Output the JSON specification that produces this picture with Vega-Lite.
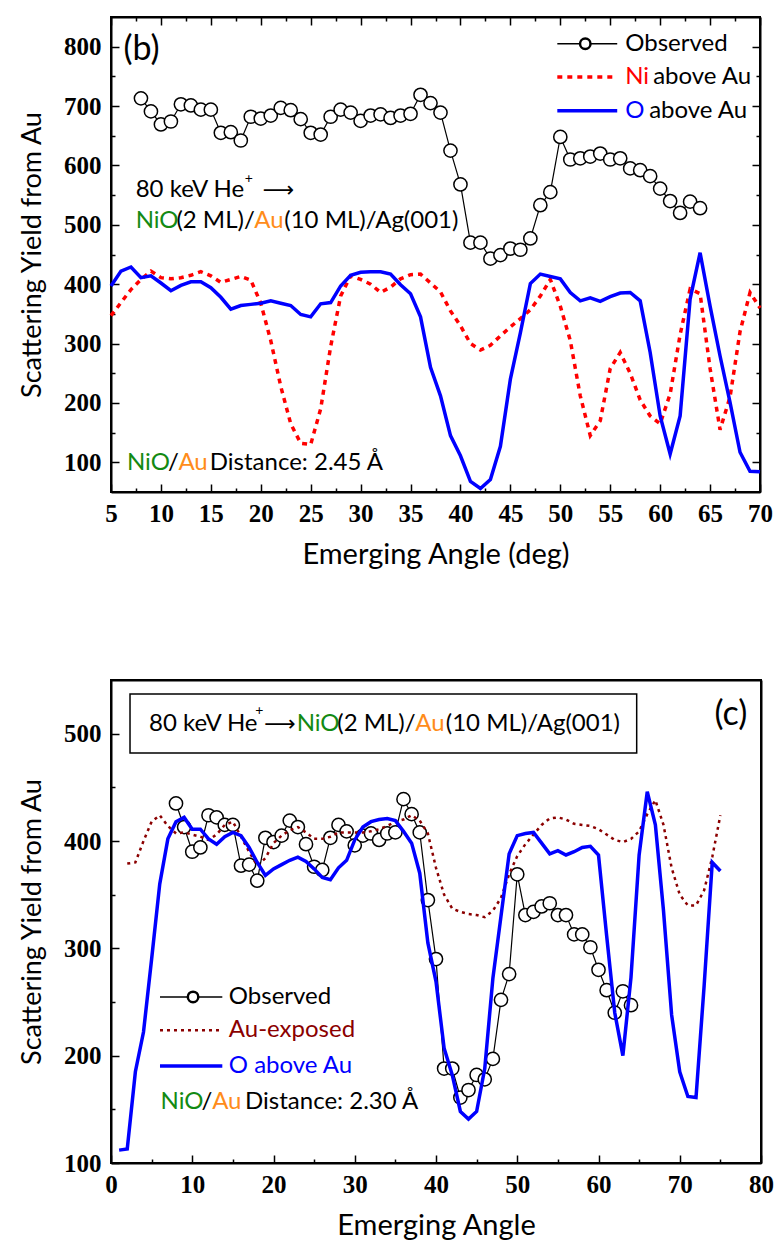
{
  "$schema": "https://vega.github.io/schema/vega-lite/v6.json",
  "padding": {"left": 17, "top": 15, "right": 14, "bottom": 5},
  "spacing": 188,
  "bounds": "flush",
  "background": "white",
  "config": {
    "font": "Lato",
    "view": {"stroke": "black", "strokeWidth": 2},
    "axis": {
      "grid": false,
      "domainColor": "black",
      "domainWidth": 2,
      "tickColor": "black",
      "tickWidth": 1.5,
      "labelFont": "Liberation Serif",
      "labelFontWeight": "bold",
      "labelFontSize": 25,
      "labelColor": "black",
      "labelFlush": false,
      "labelOverlap": false,
      "labelBound": false,
      "titleFont": "Lato",
      "titleFontWeight": "normal",
      "titleFontSize": 29,
      "titleColor": "black"
    },
    "axisLeft": {"titleFontSize": 27}
  },
  "datasets": {
    "b_obs": [
      {"angle": 8, "yield": 713}, {"angle": 9, "yield": 691}, {"angle": 10, "yield": 669}, {"angle": 11, "yield": 674},
      {"angle": 12, "yield": 703}, {"angle": 13, "yield": 701}, {"angle": 14, "yield": 694}, {"angle": 15, "yield": 694},
      {"angle": 16, "yield": 655}, {"angle": 17, "yield": 656}, {"angle": 18, "yield": 642}, {"angle": 19, "yield": 682},
      {"angle": 20, "yield": 679}, {"angle": 21, "yield": 684}, {"angle": 22, "yield": 697}, {"angle": 23, "yield": 693},
      {"angle": 24, "yield": 678}, {"angle": 25, "yield": 655}, {"angle": 26, "yield": 652}, {"angle": 27, "yield": 682},
      {"angle": 28, "yield": 694}, {"angle": 29, "yield": 689}, {"angle": 30, "yield": 675}, {"angle": 31, "yield": 684},
      {"angle": 32, "yield": 686}, {"angle": 33, "yield": 680}, {"angle": 34, "yield": 684}, {"angle": 35, "yield": 687},
      {"angle": 36, "yield": 719}, {"angle": 37, "yield": 705}, {"angle": 38, "yield": 689}, {"angle": 39, "yield": 625},
      {"angle": 40, "yield": 568}, {"angle": 41, "yield": 470}, {"angle": 42, "yield": 470}, {"angle": 43, "yield": 443},
      {"angle": 44, "yield": 449}, {"angle": 45, "yield": 460}, {"angle": 46, "yield": 458}, {"angle": 47, "yield": 477},
      {"angle": 48, "yield": 533}, {"angle": 49, "yield": 555}, {"angle": 50, "yield": 648}, {"angle": 51, "yield": 610},
      {"angle": 52, "yield": 612}, {"angle": 53, "yield": 615}, {"angle": 54, "yield": 620}, {"angle": 55, "yield": 610},
      {"angle": 56, "yield": 612}, {"angle": 57, "yield": 595}, {"angle": 58, "yield": 592}, {"angle": 59, "yield": 582},
      {"angle": 60, "yield": 561}, {"angle": 61, "yield": 540}, {"angle": 62, "yield": 520}, {"angle": 63, "yield": 539},
      {"angle": 64, "yield": 528}
    ],
    "b_ni": [
      {"angle": 5, "yield": 347}, {"angle": 6, "yield": 369}, {"angle": 7, "yield": 391}, {"angle": 8, "yield": 408},
      {"angle": 9, "yield": 422}, {"angle": 10, "yield": 411}, {"angle": 11, "yield": 409}, {"angle": 12, "yield": 411},
      {"angle": 13, "yield": 415}, {"angle": 14, "yield": 421}, {"angle": 15, "yield": 414}, {"angle": 16, "yield": 403},
      {"angle": 17, "yield": 408}, {"angle": 18, "yield": 413}, {"angle": 19, "yield": 407}, {"angle": 20, "yield": 368},
      {"angle": 21, "yield": 305}, {"angle": 22, "yield": 228}, {"angle": 23, "yield": 165}, {"angle": 24, "yield": 132},
      {"angle": 25, "yield": 130}, {"angle": 26, "yield": 190}, {"angle": 27, "yield": 295}, {"angle": 28, "yield": 380},
      {"angle": 29, "yield": 414}, {"angle": 30, "yield": 408}, {"angle": 31, "yield": 400}, {"angle": 32, "yield": 386},
      {"angle": 33, "yield": 395}, {"angle": 34, "yield": 409}, {"angle": 35, "yield": 416}, {"angle": 36, "yield": 417},
      {"angle": 37, "yield": 402}, {"angle": 38, "yield": 387}, {"angle": 39, "yield": 355}, {"angle": 40, "yield": 330},
      {"angle": 41, "yield": 300}, {"angle": 42, "yield": 289}, {"angle": 43, "yield": 297}, {"angle": 44, "yield": 313},
      {"angle": 45, "yield": 328}, {"angle": 46, "yield": 342}, {"angle": 47, "yield": 357}, {"angle": 48, "yield": 380},
      {"angle": 49, "yield": 408}, {"angle": 50, "yield": 363}, {"angle": 51, "yield": 305}, {"angle": 52, "yield": 212},
      {"angle": 53, "yield": 145}, {"angle": 54, "yield": 170}, {"angle": 55, "yield": 258}, {"angle": 56, "yield": 285},
      {"angle": 57, "yield": 250}, {"angle": 58, "yield": 205}, {"angle": 59, "yield": 178}, {"angle": 60, "yield": 165},
      {"angle": 61, "yield": 215}, {"angle": 62, "yield": 315}, {"angle": 63, "yield": 392}, {"angle": 64, "yield": 384},
      {"angle": 65, "yield": 258}, {"angle": 66, "yield": 155}, {"angle": 67, "yield": 210}, {"angle": 68, "yield": 320},
      {"angle": 69, "yield": 386}, {"angle": 70, "yield": 360}
    ],
    "b_o": [
      {"angle": 5, "yield": 397}, {"angle": 6, "yield": 422}, {"angle": 7, "yield": 429}, {"angle": 8, "yield": 411},
      {"angle": 9, "yield": 414}, {"angle": 10, "yield": 402}, {"angle": 11, "yield": 389}, {"angle": 12, "yield": 398},
      {"angle": 13, "yield": 404}, {"angle": 14, "yield": 404}, {"angle": 15, "yield": 394}, {"angle": 16, "yield": 378},
      {"angle": 17, "yield": 358}, {"angle": 18, "yield": 364}, {"angle": 19, "yield": 366}, {"angle": 20, "yield": 368},
      {"angle": 21, "yield": 372}, {"angle": 22, "yield": 368}, {"angle": 23, "yield": 364}, {"angle": 24, "yield": 349},
      {"angle": 25, "yield": 345}, {"angle": 26, "yield": 367}, {"angle": 27, "yield": 369}, {"angle": 28, "yield": 397},
      {"angle": 29, "yield": 415}, {"angle": 30, "yield": 420}, {"angle": 31, "yield": 421}, {"angle": 32, "yield": 421},
      {"angle": 33, "yield": 417}, {"angle": 34, "yield": 399}, {"angle": 35, "yield": 384}, {"angle": 36, "yield": 345},
      {"angle": 37, "yield": 260}, {"angle": 38, "yield": 212}, {"angle": 39, "yield": 145}, {"angle": 40, "yield": 111},
      {"angle": 41, "yield": 68}, {"angle": 42, "yield": 56}, {"angle": 43, "yield": 71}, {"angle": 44, "yield": 127},
      {"angle": 45, "yield": 240}, {"angle": 46, "yield": 318}, {"angle": 47, "yield": 401}, {"angle": 48, "yield": 417},
      {"angle": 49, "yield": 413}, {"angle": 50, "yield": 409}, {"angle": 51, "yield": 386}, {"angle": 52, "yield": 372},
      {"angle": 53, "yield": 377}, {"angle": 54, "yield": 371}, {"angle": 55, "yield": 379}, {"angle": 56, "yield": 385},
      {"angle": 57, "yield": 386}, {"angle": 58, "yield": 372}, {"angle": 59, "yield": 285}, {"angle": 60, "yield": 178},
      {"angle": 61, "yield": 114}, {"angle": 62, "yield": 178}, {"angle": 63, "yield": 375}, {"angle": 64, "yield": 453},
      {"angle": 65, "yield": 363}, {"angle": 66, "yield": 279}, {"angle": 67, "yield": 201}, {"angle": 68, "yield": 117},
      {"angle": 69, "yield": 85}, {"angle": 70, "yield": 84}
    ],
    "c_obs": [
      {"angle": 8, "yield": 435}, {"angle": 9, "yield": 413}, {"angle": 10, "yield": 390}, {"angle": 11, "yield": 394},
      {"angle": 12, "yield": 424}, {"angle": 13, "yield": 422}, {"angle": 14, "yield": 415}, {"angle": 15, "yield": 415},
      {"angle": 16, "yield": 377}, {"angle": 17, "yield": 378}, {"angle": 18, "yield": 363}, {"angle": 19, "yield": 403},
      {"angle": 20, "yield": 399}, {"angle": 21, "yield": 405}, {"angle": 22, "yield": 419}, {"angle": 23, "yield": 413},
      {"angle": 24, "yield": 397}, {"angle": 25, "yield": 376}, {"angle": 26, "yield": 373}, {"angle": 27, "yield": 403},
      {"angle": 28, "yield": 415}, {"angle": 29, "yield": 409}, {"angle": 30, "yield": 396}, {"angle": 31, "yield": 405},
      {"angle": 32, "yield": 407}, {"angle": 33, "yield": 401}, {"angle": 34, "yield": 407}, {"angle": 35, "yield": 408},
      {"angle": 36, "yield": 439}, {"angle": 37, "yield": 425}, {"angle": 38, "yield": 408}, {"angle": 39, "yield": 345},
      {"angle": 40, "yield": 290}, {"angle": 41, "yield": 188}, {"angle": 42, "yield": 188}, {"angle": 43, "yield": 161},
      {"angle": 44, "yield": 168}, {"angle": 45, "yield": 182}, {"angle": 46, "yield": 178}, {"angle": 47, "yield": 197},
      {"angle": 48, "yield": 252}, {"angle": 49, "yield": 276}, {"angle": 50, "yield": 369}, {"angle": 51, "yield": 331},
      {"angle": 52, "yield": 334}, {"angle": 53, "yield": 339}, {"angle": 54, "yield": 342}, {"angle": 55, "yield": 331},
      {"angle": 56, "yield": 331}, {"angle": 57, "yield": 313}, {"angle": 58, "yield": 313}, {"angle": 59, "yield": 301},
      {"angle": 60, "yield": 280}, {"angle": 61, "yield": 261}, {"angle": 62, "yield": 240}, {"angle": 63, "yield": 260},
      {"angle": 64, "yield": 247}
    ],
    "c_au": [
      {"angle": 2, "yield": 379}, {"angle": 3, "yield": 380}, {"angle": 4, "yield": 400}, {"angle": 5, "yield": 418},
      {"angle": 6, "yield": 424}, {"angle": 7, "yield": 414}, {"angle": 8, "yield": 407}, {"angle": 9, "yield": 408},
      {"angle": 10, "yield": 406}, {"angle": 11, "yield": 404}, {"angle": 12, "yield": 401}, {"angle": 13, "yield": 406},
      {"angle": 14, "yield": 415}, {"angle": 15, "yield": 418}, {"angle": 16, "yield": 404}, {"angle": 17, "yield": 390},
      {"angle": 18, "yield": 377}, {"angle": 19, "yield": 384}, {"angle": 20, "yield": 398}, {"angle": 21, "yield": 405},
      {"angle": 22, "yield": 410}, {"angle": 23, "yield": 413}, {"angle": 24, "yield": 408}, {"angle": 25, "yield": 402},
      {"angle": 26, "yield": 402}, {"angle": 27, "yield": 404}, {"angle": 28, "yield": 408}, {"angle": 29, "yield": 408},
      {"angle": 30, "yield": 408}, {"angle": 31, "yield": 408}, {"angle": 32, "yield": 409}, {"angle": 33, "yield": 411},
      {"angle": 34, "yield": 414}, {"angle": 35, "yield": 418}, {"angle": 36, "yield": 420}, {"angle": 37, "yield": 424},
      {"angle": 38, "yield": 419}, {"angle": 39, "yield": 407}, {"angle": 40, "yield": 375}, {"angle": 41, "yield": 350},
      {"angle": 42, "yield": 337}, {"angle": 43, "yield": 334}, {"angle": 44, "yield": 332}, {"angle": 45, "yield": 331},
      {"angle": 46, "yield": 329}, {"angle": 47, "yield": 335}, {"angle": 48, "yield": 347}, {"angle": 49, "yield": 369},
      {"angle": 50, "yield": 386}, {"angle": 51, "yield": 397}, {"angle": 52, "yield": 406}, {"angle": 53, "yield": 415},
      {"angle": 54, "yield": 421}, {"angle": 55, "yield": 422}, {"angle": 56, "yield": 420}, {"angle": 57, "yield": 416},
      {"angle": 58, "yield": 415}, {"angle": 59, "yield": 414}, {"angle": 60, "yield": 411}, {"angle": 61, "yield": 406},
      {"angle": 62, "yield": 401}, {"angle": 63, "yield": 399}, {"angle": 64, "yield": 402}, {"angle": 65, "yield": 409},
      {"angle": 66, "yield": 425}, {"angle": 67, "yield": 438}, {"angle": 68, "yield": 415}, {"angle": 69, "yield": 375},
      {"angle": 70, "yield": 350}, {"angle": 71, "yield": 340}, {"angle": 72, "yield": 340}, {"angle": 73, "yield": 354},
      {"angle": 74, "yield": 385}, {"angle": 75, "yield": 424}
    ],
    "c_o": [
      {"angle": 1, "yield": 112}, {"angle": 2, "yield": 113}, {"angle": 3, "yield": 185}, {"angle": 4, "yield": 222},
      {"angle": 5, "yield": 290}, {"angle": 6, "yield": 360}, {"angle": 7, "yield": 402}, {"angle": 8, "yield": 418},
      {"angle": 9, "yield": 422}, {"angle": 10, "yield": 411}, {"angle": 11, "yield": 411}, {"angle": 12, "yield": 402},
      {"angle": 13, "yield": 397}, {"angle": 14, "yield": 404}, {"angle": 15, "yield": 408}, {"angle": 16, "yield": 405},
      {"angle": 17, "yield": 394}, {"angle": 18, "yield": 380}, {"angle": 19, "yield": 368}, {"angle": 20, "yield": 374},
      {"angle": 21, "yield": 378}, {"angle": 22, "yield": 382}, {"angle": 23, "yield": 385}, {"angle": 24, "yield": 381},
      {"angle": 25, "yield": 374}, {"angle": 26, "yield": 366}, {"angle": 27, "yield": 364}, {"angle": 28, "yield": 375},
      {"angle": 29, "yield": 382}, {"angle": 30, "yield": 401}, {"angle": 31, "yield": 413}, {"angle": 32, "yield": 418},
      {"angle": 33, "yield": 420}, {"angle": 34, "yield": 421}, {"angle": 35, "yield": 419}, {"angle": 36, "yield": 409},
      {"angle": 37, "yield": 398}, {"angle": 38, "yield": 370}, {"angle": 39, "yield": 305}, {"angle": 40, "yield": 269},
      {"angle": 41, "yield": 207}, {"angle": 42, "yield": 182}, {"angle": 43, "yield": 148}, {"angle": 44, "yield": 141},
      {"angle": 45, "yield": 148}, {"angle": 46, "yield": 188}, {"angle": 47, "yield": 272}, {"angle": 48, "yield": 330},
      {"angle": 49, "yield": 388}, {"angle": 50, "yield": 405}, {"angle": 51, "yield": 407}, {"angle": 52, "yield": 408},
      {"angle": 53, "yield": 398}, {"angle": 54, "yield": 388}, {"angle": 55, "yield": 391}, {"angle": 56, "yield": 387},
      {"angle": 57, "yield": 390}, {"angle": 58, "yield": 394}, {"angle": 59, "yield": 395}, {"angle": 60, "yield": 387},
      {"angle": 61, "yield": 312}, {"angle": 62, "yield": 240}, {"angle": 63, "yield": 200}, {"angle": 64, "yield": 273},
      {"angle": 65, "yield": 387}, {"angle": 66, "yield": 446}, {"angle": 67, "yield": 415}, {"angle": 68, "yield": 335},
      {"angle": 69, "yield": 238}, {"angle": 70, "yield": 185}, {"angle": 71, "yield": 162}, {"angle": 72, "yield": 161},
      {"angle": 73, "yield": 265}, {"angle": 74, "yield": 380}, {"angle": 75, "yield": 372}
    ]
  },
  "vconcat": [
    {
      "width": 649,
      "height": 475,
      "resolve": {"axis": {"x": "independent", "y": "independent"}},
      "layer": [
        {
          "data": {"name": "b_obs"},
          "mark": {"type": "line", "color": "black", "strokeWidth": 1.2},
          "encoding": {
            "x": {"field": "angle", "type": "quantitative",
              "scale": {"domain": [5, 70], "nice": false, "zero": false},
              "axis": {"orient": "bottom", "title": "Emerging Angle (deg)",
                "values": [5, 7.5, 10, 12.5, 15, 17.5, 20, 22.5, 25, 27.5, 30, 32.5, 35, 37.5, 40, 42.5, 45, 47.5, 50, 52.5, 55, 57.5, 60, 62.5, 65, 67.5, 70],
                "labelExpr": "datum.value % 5 === 0 ? datum.label : ''",
                "tickSize": {"condition": {"test": "datum.value % 5 === 0", "value": -8}, "value": -4},
                "labelPadding": 17, "titlePadding": 10}},
            "y": {"field": "yield", "type": "quantitative",
              "scale": {"domain": [50, 850], "nice": false, "zero": false},
              "axis": {"orient": "left", "title": "Scattering Yield from Au",
                "values": [100, 150, 200, 250, 300, 350, 400, 450, 500, 550, 600, 650, 700, 750, 800],
                "labelExpr": "datum.value % 100 === 0 ? datum.label : ''",
                "tickSize": {"condition": {"test": "datum.value % 100 === 0", "value": -8}, "value": -4},
                "labelPadding": 18, "titlePadding": 17}}
          }
        },
        {
          "data": {"name": "b_obs"},
          "mark": {"type": "point", "shape": "circle", "filled": true, "fill": "white", "stroke": "black", "strokeWidth": 1.5, "size": 175, "opacity": 1},
          "encoding": {
            "x": {"field": "angle", "type": "quantitative",
              "axis": {"orient": "top", "title": null, "labels": false,
                "values": [5, 7.5, 10, 12.5, 15, 17.5, 20, 22.5, 25, 27.5, 30, 32.5, 35, 37.5, 40, 42.5, 45, 47.5, 50, 52.5, 55, 57.5, 60, 62.5, 65, 67.5, 70],
                "tickSize": {"condition": {"test": "datum.value % 5 === 0", "value": -8}, "value": -4}}},
            "y": {"field": "yield", "type": "quantitative",
              "axis": {"orient": "right", "title": null, "labels": false,
                "values": [100, 150, 200, 250, 300, 350, 400, 450, 500, 550, 600, 650, 700, 750, 800],
                "tickSize": {"condition": {"test": "datum.value % 100 === 0", "value": -8}, "value": -4}}}
          }
        },
        {
          "data": {"name": "b_ni"},
          "mark": {"type": "line", "color": "#FF0000", "strokeWidth": 3.5, "strokeDash": [5, 5]},
          "encoding": {
            "x": {"field": "angle", "type": "quantitative", "axis": null},
            "y": {"field": "yield", "type": "quantitative", "axis": null}
          }
        },
        {
          "data": {"name": "b_o"},
          "mark": {"type": "line", "color": "#0000FF", "strokeWidth": 3.5},
          "encoding": {
            "x": {"field": "angle", "type": "quantitative", "axis": null},
            "y": {"field": "yield", "type": "quantitative", "axis": null}
          }
        },
        {"data": {"values": [{}]}, "mark": {"type": "text", "text": "(b)", "fontSize": 34, "align": "left", "baseline": "middle", "color": "black"},
         "encoding": {"x": {"datum": 6.25, "axis": null}, "y": {"datum": 795, "axis": null}}},
        {"data": {"values": [{}]}, "mark": {"type": "rule", "color": "black", "strokeWidth": 1.5},
         "encoding": {"x": {"datum": 49.7, "axis": null}, "x2": {"datum": 55.7}, "y": {"datum": 805, "axis": null}}},
        {"data": {"values": [{}]}, "mark": {"type": "point", "shape": "circle", "filled": true, "fill": "white", "stroke": "black", "strokeWidth": 2.5, "size": 110, "opacity": 1},
         "encoding": {"x": {"datum": 52.5, "axis": null}, "y": {"datum": 805, "axis": null}}},
        {"data": {"values": [{}]}, "mark": {"type": "text", "text": "Observed", "fontSize": 24, "align": "left", "baseline": "middle", "color": "black"},
         "encoding": {"x": {"datum": 56.5, "axis": null}, "y": {"datum": 805, "axis": null}}},
        {"data": {"values": [{}]}, "mark": {"type": "rule", "color": "#FF0000", "strokeWidth": 3.5, "strokeDash": [5, 5]},
         "encoding": {"x": {"datum": 49.7, "axis": null}, "x2": {"datum": 55.7}, "y": {"datum": 749, "axis": null}}},
        {"data": {"values": [{}]}, "mark": {"type": "text", "text": "Ni", "fontSize": 24, "align": "left", "baseline": "middle", "color": "#FF0000"},
         "encoding": {"x": {"datum": 56.5, "axis": null}, "y": {"datum": 749, "axis": null}}},
        {"data": {"values": [{}]}, "mark": {"type": "text", "text": "above Au", "fontSize": 24, "align": "left", "baseline": "middle", "color": "black"},
         "encoding": {"x": {"datum": 59.3, "axis": null}, "y": {"datum": 749, "axis": null}}},
        {"data": {"values": [{}]}, "mark": {"type": "rule", "color": "#0000FF", "strokeWidth": 3.5},
         "encoding": {"x": {"datum": 49.7, "axis": null}, "x2": {"datum": 55.7}, "y": {"datum": 692, "axis": null}}},
        {"data": {"values": [{}]}, "mark": {"type": "text", "text": "O", "fontSize": 24, "align": "left", "baseline": "middle", "color": "#0000FF"},
         "encoding": {"x": {"datum": 56.5, "axis": null}, "y": {"datum": 692, "axis": null}}},
        {"data": {"values": [{}]}, "mark": {"type": "text", "text": "above Au", "fontSize": 24, "align": "left", "baseline": "middle", "color": "black"},
         "encoding": {"x": {"datum": 58.9, "axis": null}, "y": {"datum": 692, "axis": null}}},
        {"data": {"values": [{}]}, "mark": {"type": "text", "text": "80 keV He", "fontSize": 24, "align": "left", "baseline": "middle", "color": "black"},
         "encoding": {"x": {"datum": 7.47, "axis": null}, "y": {"datum": 559, "axis": null}}},
        {"data": {"values": [{}]}, "mark": {"type": "text", "text": "+", "fontSize": 14, "align": "left", "baseline": "middle", "color": "black"},
         "encoding": {"x": {"datum": 18.4, "axis": null}, "y": {"datum": 578, "axis": null}}},
        {"data": {"values": [{}]}, "mark": {"type": "text", "text": "⟶", "font": "DejaVu Sans", "fontSize": 22, "align": "left", "baseline": "middle", "color": "black"},
         "encoding": {"x": {"datum": 20.2, "axis": null}, "y": {"datum": 559, "axis": null}}},
        {"data": {"values": [{}]}, "mark": {"type": "text", "text": "NiO", "fontSize": 24, "align": "left", "baseline": "middle", "color": "#138A13"},
         "encoding": {"x": {"datum": 7.47, "axis": null}, "y": {"datum": 507, "axis": null}}},
        {"data": {"values": [{}]}, "mark": {"type": "text", "text": "(2 ML)/", "fontSize": 24, "align": "left", "baseline": "middle", "color": "black"},
         "encoding": {"x": {"datum": 11.55, "axis": null}, "y": {"datum": 507, "axis": null}}},
        {"data": {"values": [{}]}, "mark": {"type": "text", "text": "Au", "fontSize": 24, "align": "left", "baseline": "middle", "color": "#FF8C1A"},
         "encoding": {"x": {"datum": 19.35, "axis": null}, "y": {"datum": 507, "axis": null}}},
        {"data": {"values": [{}]}, "mark": {"type": "text", "text": "(10 ML)/Ag(001)", "fontSize": 24, "align": "left", "baseline": "middle", "color": "black"},
         "encoding": {"x": {"datum": 22.35, "axis": null}, "y": {"datum": 507, "axis": null}}},
        {"data": {"values": [{}]}, "mark": {"type": "text", "text": "NiO", "fontSize": 24, "align": "left", "baseline": "middle", "color": "#138A13"},
         "encoding": {"x": {"datum": 6.6, "axis": null}, "y": {"datum": 99, "axis": null}}},
        {"data": {"values": [{}]}, "mark": {"type": "text", "text": "/", "fontSize": 24, "align": "left", "baseline": "middle", "color": "black"},
         "encoding": {"x": {"datum": 10.7, "axis": null}, "y": {"datum": 99, "axis": null}}},
        {"data": {"values": [{}]}, "mark": {"type": "text", "text": "Au", "fontSize": 24, "align": "left", "baseline": "middle", "color": "#FF8C1A"},
         "encoding": {"x": {"datum": 11.75, "axis": null}, "y": {"datum": 99, "axis": null}}},
        {"data": {"values": [{}]}, "mark": {"type": "text", "text": "Distance: 2.45 Å", "fontSize": 24, "align": "left", "baseline": "middle", "color": "black"},
         "encoding": {"x": {"datum": 14.9, "axis": null}, "y": {"datum": 99, "axis": null}}}
      ]
    },
    {
      "width": 650,
      "height": 483,
      "resolve": {"axis": {"x": "independent", "y": "independent"}},
      "layer": [
        {
          "data": {"name": "c_obs"},
          "mark": {"type": "line", "color": "black", "strokeWidth": 1.2},
          "encoding": {
            "x": {"field": "angle", "type": "quantitative",
              "scale": {"domain": [0, 80], "nice": false, "zero": false},
              "axis": {"orient": "bottom", "title": "Emerging Angle",
                "values": [0, 5, 10, 15, 20, 25, 30, 35, 40, 45, 50, 55, 60, 65, 70, 75, 80],
                "labelExpr": "datum.value % 10 === 0 ? datum.label : ''",
                "tickSize": {"condition": {"test": "datum.value % 10 === 0", "value": -8}, "value": -4},
                "labelPadding": 17, "titlePadding": 10}},
            "y": {"field": "yield", "type": "quantitative",
              "scale": {"domain": [100, 550], "nice": false, "zero": false},
              "axis": {"orient": "left", "title": "Scattering Yield from Au",
                "values": [100, 150, 200, 250, 300, 350, 400, 450, 500],
                "labelExpr": "datum.value % 100 === 0 ? datum.label : ''",
                "tickSize": {"condition": {"test": "datum.value % 100 === 0", "value": -8}, "value": -4},
                "labelPadding": 18, "titlePadding": 17}}
          }
        },
        {
          "data": {"name": "c_obs"},
          "mark": {"type": "point", "shape": "circle", "filled": true, "fill": "white", "stroke": "black", "strokeWidth": 1.5, "size": 175, "opacity": 1},
          "encoding": {
            "x": {"field": "angle", "type": "quantitative",
              "axis": {"orient": "top", "title": null, "labels": false, "ticks": false}},
            "y": {"field": "yield", "type": "quantitative",
              "axis": {"orient": "right", "title": null, "labels": false, "ticks": false}}
          }
        },
        {
          "data": {"name": "c_au"},
          "mark": {"type": "line", "color": "#8B0000", "strokeWidth": 2.5, "strokeDash": [3, 4]},
          "encoding": {
            "x": {"field": "angle", "type": "quantitative", "axis": null},
            "y": {"field": "yield", "type": "quantitative", "axis": null}
          }
        },
        {
          "data": {"name": "c_o"},
          "mark": {"type": "line", "color": "#0000FF", "strokeWidth": 3.5},
          "encoding": {
            "x": {"field": "angle", "type": "quantitative", "axis": null},
            "y": {"field": "yield", "type": "quantitative", "axis": null}
          }
        },
        {"data": {"values": [{}]}, "mark": {"type": "rect", "fill": "white", "fillOpacity": 0, "stroke": "black", "strokeWidth": 1.5},
         "encoding": {"x": {"datum": 2.34, "axis": null}, "x2": {"datum": 64.7}, "y": {"datum": 537, "axis": null}, "y2": {"datum": 482}}},
        {"data": {"values": [{}]}, "mark": {"type": "text", "text": "80 keV He", "fontSize": 24, "align": "left", "baseline": "middle", "color": "black"},
         "encoding": {"x": {"datum": 4.68, "axis": null}, "y": {"datum": 509, "axis": null}}},
        {"data": {"values": [{}]}, "mark": {"type": "text", "text": "+", "fontSize": 14, "align": "left", "baseline": "middle", "color": "black"},
         "encoding": {"x": {"datum": 17.75, "axis": null}, "y": {"datum": 521, "axis": null}}},
        {"data": {"values": [{}]}, "mark": {"type": "text", "text": "⟶", "font": "DejaVu Sans", "fontSize": 22, "align": "left", "baseline": "middle", "color": "black"},
         "encoding": {"x": {"datum": 18.85, "axis": null}, "y": {"datum": 509, "axis": null}}},
        {"data": {"values": [{}]}, "mark": {"type": "text", "text": "NiO", "fontSize": 24, "align": "left", "baseline": "middle", "color": "#138A13"},
         "encoding": {"x": {"datum": 22.85, "axis": null}, "y": {"datum": 509, "axis": null}}},
        {"data": {"values": [{}]}, "mark": {"type": "text", "text": "(2 ML)/", "fontSize": 24, "align": "left", "baseline": "middle", "color": "black"},
         "encoding": {"x": {"datum": 27.85, "axis": null}, "y": {"datum": 509, "axis": null}}},
        {"data": {"values": [{}]}, "mark": {"type": "text", "text": "Au", "fontSize": 24, "align": "left", "baseline": "middle", "color": "#FF8C1A"},
         "encoding": {"x": {"datum": 37.45, "axis": null}, "y": {"datum": 509, "axis": null}}},
        {"data": {"values": [{}]}, "mark": {"type": "text", "text": "(10 ML)/Ag(001)", "fontSize": 24, "align": "left", "baseline": "middle", "color": "black"},
         "encoding": {"x": {"datum": 41.2, "axis": null}, "y": {"datum": 509, "axis": null}}},
        {"data": {"values": [{}]}, "mark": {"type": "text", "text": "(c)", "fontSize": 34, "align": "center", "baseline": "middle", "color": "black"},
         "encoding": {"x": {"datum": 76.3, "axis": null}, "y": {"datum": 517, "axis": null}}},
        {"data": {"values": [{}]}, "mark": {"type": "rule", "color": "black", "strokeWidth": 1.5},
         "encoding": {"x": {"datum": 6.03, "axis": null}, "x2": {"datum": 13.7}, "y": {"datum": 254.7, "axis": null}}},
        {"data": {"values": [{}]}, "mark": {"type": "point", "shape": "circle", "filled": true, "fill": "white", "stroke": "black", "strokeWidth": 2.5, "size": 110, "opacity": 1},
         "encoding": {"x": {"datum": 10.1, "axis": null}, "y": {"datum": 254.7, "axis": null}}},
        {"data": {"values": [{}]}, "mark": {"type": "text", "text": "Observed", "fontSize": 24, "align": "left", "baseline": "middle", "color": "black"},
         "encoding": {"x": {"datum": 14.5, "axis": null}, "y": {"datum": 254.7, "axis": null}}},
        {"data": {"values": [{}]}, "mark": {"type": "rule", "color": "#8B0000", "strokeWidth": 2.5, "strokeDash": [3, 4]},
         "encoding": {"x": {"datum": 6.03, "axis": null}, "x2": {"datum": 13.7}, "y": {"datum": 223.6, "axis": null}}},
        {"data": {"values": [{}]}, "mark": {"type": "text", "text": "Au-exposed", "fontSize": 24, "align": "left", "baseline": "middle", "color": "#8B0000"},
         "encoding": {"x": {"datum": 14.5, "axis": null}, "y": {"datum": 223.6, "axis": null}}},
        {"data": {"values": [{}]}, "mark": {"type": "rule", "color": "#0000FF", "strokeWidth": 3.5},
         "encoding": {"x": {"datum": 6.03, "axis": null}, "x2": {"datum": 13.7}, "y": {"datum": 190.4, "axis": null}}},
        {"data": {"values": [{}]}, "mark": {"type": "text", "text": "O above Au", "fontSize": 24, "align": "left", "baseline": "middle", "color": "#0000FF"},
         "encoding": {"x": {"datum": 14.5, "axis": null}, "y": {"datum": 190.4, "axis": null}}},
        {"data": {"values": [{}]}, "mark": {"type": "text", "text": "NiO", "fontSize": 24, "align": "left", "baseline": "middle", "color": "#138A13"},
         "encoding": {"x": {"datum": 6.1, "axis": null}, "y": {"datum": 156.8, "axis": null}}},
        {"data": {"values": [{}]}, "mark": {"type": "text", "text": "/", "fontSize": 24, "align": "left", "baseline": "middle", "color": "black"},
         "encoding": {"x": {"datum": 11.15, "axis": null}, "y": {"datum": 156.8, "axis": null}}},
        {"data": {"values": [{}]}, "mark": {"type": "text", "text": "Au", "fontSize": 24, "align": "left", "baseline": "middle", "color": "#FF8C1A"},
         "encoding": {"x": {"datum": 12.45, "axis": null}, "y": {"datum": 156.8, "axis": null}}},
        {"data": {"values": [{}]}, "mark": {"type": "text", "text": "Distance: 2.30 Å", "fontSize": 24, "align": "left", "baseline": "middle", "color": "black"},
         "encoding": {"x": {"datum": 16.5, "axis": null}, "y": {"datum": 156.8, "axis": null}}}
      ]
    }
  ]
}
